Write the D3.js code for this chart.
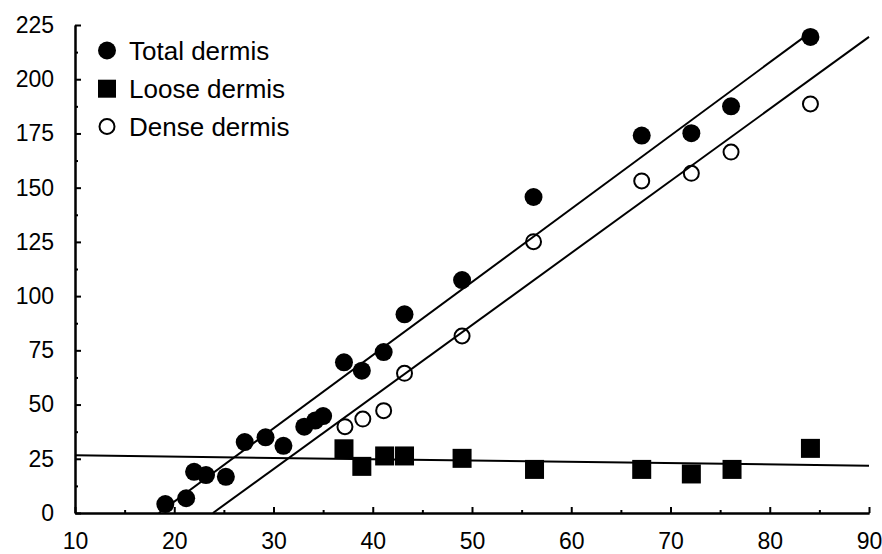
<!DOCTYPE html>
<html>
<head>
<meta charset="utf-8">
<script src="https://cdn.jsdelivr.net/npm/d3@7/dist/d3.min.js"></script>
<style>
  html, body { margin: 0; padding: 0; background: #fff; }
  svg { display: block; font-family: "Liberation Sans", Arial, sans-serif; }
</style>
</head>
<body>
<svg id="chart" width="882" height="554"></svg>
<script>
// ---- data ----
const totalX = [19.1, 21.2, 22.0, 23.2, 25.2, 27.1, 29.2, 31.0, 33.1, 34.2, 35.0, 37.1, 38.9, 41.1, 43.2, 49.0, 56.2, 67.1, 72.1, 76.1, 84.1];
const totalY = [4.1, 6.8, 19.0, 17.5, 16.7, 32.7, 34.9, 31.0, 39.8, 42.6, 44.7, 69.5, 65.6, 74.2, 91.6, 107.4, 145.7, 174.0, 175.1, 187.5, 219.5];

const looseX = [37.1, 38.9, 41.2, 43.2, 49.0, 56.3, 67.1, 72.1, 76.2, 84.1];
const looseY = [29.6, 21.5, 26.3, 26.3, 25.2, 20.1, 20.1, 18.0, 20.1, 29.8];

const denseX = [37.2, 39.0, 41.1, 43.2, 49.0, 56.2, 67.1, 72.1, 76.1, 84.1];
const denseY = [39.8, 43.3, 47.2, 64.4, 81.6, 125.1, 153.1, 156.6, 166.4, 188.6];

// regression line end points [x, y]
const totalFit = [[18.45, 0], [84.1, 221.6]];
const looseFit = [[10, 26.6], [90, 21.8]];
const denseFit = [[23.9, 0], [90, 219.5]];

const xMajor = [10, 20, 30, 40, 50, 60, 70, 80, 90];
const xMinor = [15, 25, 35, 45, 55, 65, 75, 85];
const yMajor = [0, 25, 50, 75, 100, 125, 150, 175, 200, 225];
const yMinor = [12.5, 37.5, 62.5, 87.5, 112.5, 137.5, 162.5, 187.5, 212.5];

const legendLabels = ["Total dermis", "Loose dermis", "Dense dermis"];

// ---- chart ----
const svg = d3.select("#chart");
const x = d3.scaleLinear().domain([10, 90]).range([75, 869]);
const y = d3.scaleLinear().domain([0, 225]).range([513, 25]);

const axisStyle = g => {
  g.select(".domain").attr("stroke", "#000").attr("stroke-width", 2);
  g.selectAll(".tick line").attr("stroke", "#000").attr("stroke-width", 2);
  g.selectAll("text").attr("fill", "#000").style("font-size", "23px")
    .style("font-family", '"Liberation Sans", Arial, sans-serif');
};

// x axis
svg.append("g").attr("transform", `translate(0,${y(0)})`)
  .call(d3.axisBottom(x).tickValues(xMajor).tickFormat(d3.format("d"))
    .tickSizeInner(-6).tickSizeOuter(0).tickPadding(19.5))
  .call(axisStyle);
svg.append("g").attr("transform", `translate(0,${y(0)})`)
  .call(d3.axisBottom(x).tickValues(xMinor).tickFormat("")
    .tickSizeInner(-3).tickSizeOuter(0))
  .call(axisStyle);

// y axis
svg.append("g").attr("transform", `translate(${x(10)},0)`)
  .call(d3.axisLeft(y).tickValues(yMajor).tickFormat(d3.format("d"))
    .tickSizeInner(-6).tickSizeOuter(0).tickPadding(21))
  .call(axisStyle);
svg.append("g").attr("transform", `translate(${x(10)},0)`)
  .call(d3.axisLeft(y).tickValues(yMinor).tickFormat("")
    .tickSizeInner(-3).tickSizeOuter(0))
  .call(axisStyle);

// fit lines
const line = d3.line().x(d => x(d[0])).y(d => y(d[1]));
[totalFit, looseFit, denseFit].forEach(f => {
  svg.append("path").datum(f).attr("d", line)
    .attr("fill", "none").attr("stroke", "#000").attr("stroke-width", 2);
});

// points
const total = totalX.map((v, i) => [v, totalY[i]]);
const loose = looseX.map((v, i) => [v, looseY[i]]);
const dense = denseX.map((v, i) => [v, denseY[i]]);

svg.append("g").selectAll("circle").data(total).join("circle")
  .attr("cx", d => x(d[0])).attr("cy", d => y(d[1])).attr("r", 9).attr("fill", "#000");
svg.append("g").selectAll("rect").data(loose).join("rect")
  .attr("x", d => x(d[0]) - 9.5).attr("y", d => y(d[1]) - 9.5)
  .attr("width", 19).attr("height", 19).attr("fill", "#000");
svg.append("g").selectAll("circle").data(dense).join("circle")
  .attr("cx", d => x(d[0])).attr("cy", d => y(d[1])).attr("r", 7.5)
  .attr("fill", "none").attr("stroke", "#000").attr("stroke-width", 2);

// legend
const leg = svg.append("g");
const ly = [50.5, 88.7, 126.5];
leg.append("circle").attr("cx", 107).attr("cy", ly[0]).attr("r", 9).attr("fill", "#000");
leg.append("rect").attr("x", 98).attr("y", ly[1] - 9).attr("width", 18).attr("height", 18).attr("fill", "#000");
leg.append("circle").attr("cx", 107).attr("cy", ly[2]).attr("r", 7.5)
  .attr("fill", "none").attr("stroke", "#000").attr("stroke-width", 2);
legendLabels.forEach((t, i) => {
  leg.append("text").attr("x", 129).attr("y", ly[i]).attr("dy", "0.36em")
    .style("font-size", "26px").attr("fill", "#000").text(t);
});
</script>
</body>
</html>
